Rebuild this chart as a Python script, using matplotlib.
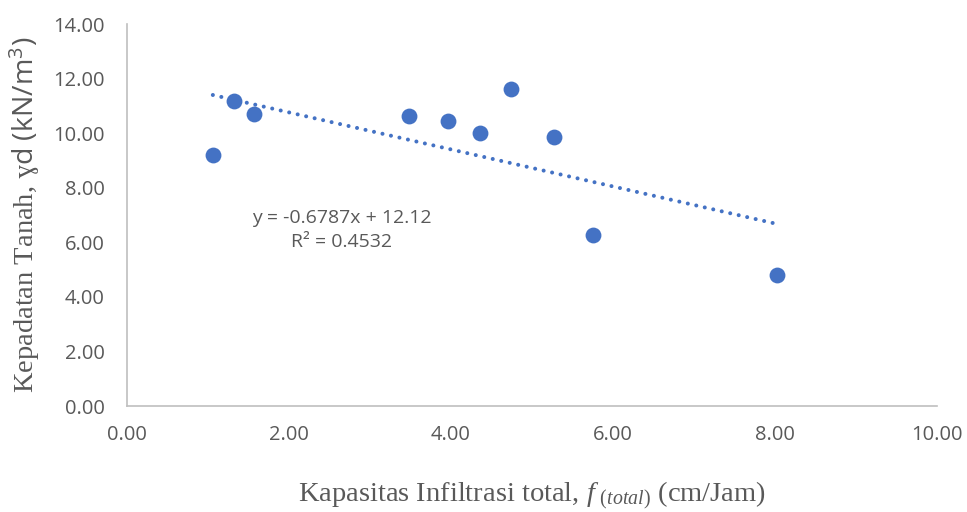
import matplotlib
matplotlib.use("Agg")
import matplotlib.pyplot as plt
import numpy as np

# Data
infiltrasi = [1.06, 1.32, 1.57, 3.48, 3.96, 4.36, 4.74, 5.27, 5.75, 8.02]
kepadatan = [9.20, 11.18, 10.70, 10.63, 10.44, 10.00, 11.62, 9.86, 6.27, 4.80]
slope = -0.6787
intercept = 12.12
r2 = 0.4532
x_ticks = [0, 2, 4, 6, 8, 10]
y_ticks = [0, 2, 4, 6, 8, 10, 12, 14]

plt.rcParams['mathtext.fontset'] = 'custom'
plt.rcParams['mathtext.it'] = 'Liberation Serif:italic'
plt.rcParams['mathtext.rm'] = 'Liberation Serif'
plt.rcParams['mathtext.sf'] = 'Open Sans'

fig = plt.figure(figsize=(9.67, 5.12), dpi=100)
ax = fig.add_axes([0.1313, 0.207, 0.9690 - 0.1313, 0.953 - 0.207])

blue = '#4472C4'
ax.scatter(infiltrasi, kepadatan, s=130, color=blue, zorder=3, linewidths=0)

xs = np.array([min(infiltrasi), max(infiltrasi)])
ax.plot(xs, slope * xs + intercept, color=blue, linewidth=2.9,
        linestyle=(0, (0.01, 2.15)), dash_capstyle='round', zorder=2)

ax.set_xlim(0, 10)
ax.set_ylim(0, 14)
ax.set_xticks(x_ticks)
ax.set_yticks(y_ticks)
ax.set_xticklabels([f"{v:.2f}" for v in x_ticks])
ax.set_yticklabels([f"{v:.2f}" for v in y_ticks])
ax.tick_params(length=0, labelsize=14.5, labelcolor='#595959')
ax.tick_params(axis='y', pad=16)
ax.tick_params(axis='x', pad=14)
for lab in ax.get_xticklabels() + ax.get_yticklabels():
    lab.set_fontfamily('Open Sans')

for s in ['top', 'right']:
    ax.spines[s].set_visible(False)
for s in ['left', 'bottom']:
    ax.spines[s].set_color('#BFBFBF')
    ax.spines[s].set_linewidth(1.2)

ax.set_xlabel(r"Kapasitas Infiltrasi total, $\mathit{f}\;_{\mathit{(total)}}$ (cm/Jam)",
              fontfamily='Liberation Serif', fontsize=20.5, color='#595959', labelpad=24)
ax.set_ylabel(r"Kepadatan Tanah, $\mathsf{ɣd\ (kN/m^3)}$",
              fontfamily='Liberation Serif', fontsize=20.5, color='#595959', labelpad=8)

ax.text(2.65, 6.45, f"y = {slope}x + {intercept}\nR² = {r2}", ha='center', va='center',
        fontfamily='Open Sans', fontsize=14, color='#595959', linespacing=1.45)

fig.savefig("out.png", dpi=100)
